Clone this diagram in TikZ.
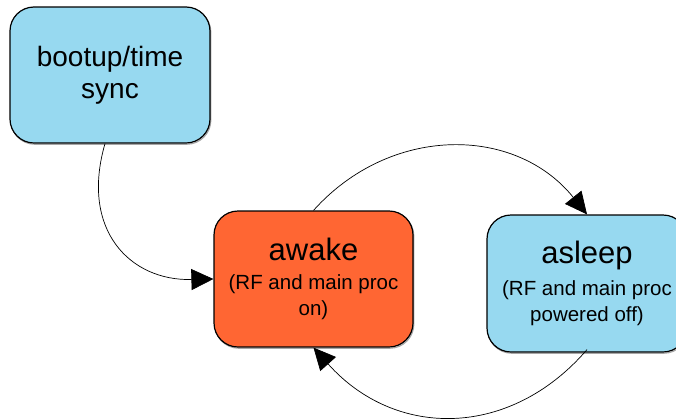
\documentclass[tikz,border=0pt]{standalone}
\usepackage{fontspec}
\setmainfont{Liberation Sans}
\usetikzlibrary{arrows.meta}
\definecolor{stateblue}{RGB}{151,217,240}
\definecolor{stateorange}{RGB}{255,102,51}
\tikzset{
  state/.style={draw=black, line width=1.2pt, rounded corners=24pt,
    minimum width=200pt, minimum height=136pt, align=center, inner sep=0pt,
    preaction={draw=black!35, line width=1.2pt, transform canvas={xshift=0.8pt, yshift=-1.2pt}}},
  flow/.style={draw=black, line width=0.7pt, -{Triangle[length=22pt, width=21pt]}},
  bigtext/.style={font=\fontsize{28}{32}\selectfont},
  subtext/.style={font=\fontsize{20.5}{25.5}\selectfont},
}
\newcommand{\statename}[1]{{\fontsize{31}{31}\selectfont #1}}
\begin{document}
\begin{tikzpicture}[x=1pt, y=-1pt]
  \useasboundingbox (0,0) rectangle (676,418);
  \clip (0,0) rectangle (676,418);

  % states
  \node[state, fill=stateblue, bigtext] (boot) at (110,75) {bootup/time\\sync};
  \node[state, fill=stateorange, subtext, minimum width=199pt] (awake) at (313.5,279)
    {\statename{awake}\\[3.5pt](RF and main proc\\on)};
  \node[state, fill=stateblue, subtext, minimum height=137pt] (asleep) at (587,283.5)
    {\statename{asleep}\\[6.5pt](RF and main proc\\powered off)};

  % transitions
  \draw[flow] ([xshift=-5pt]boot.south) .. controls (80,230) and (130,281) .. (awake.west);
  \draw[flow] (awake.north) .. controls (390,125) and (515,125) .. (asleep.north);
  \draw[flow] ([yshift=3pt]asleep.south) .. controls (510,439) and (395,439) .. (awake.south);
\end{tikzpicture}
\end{document}
